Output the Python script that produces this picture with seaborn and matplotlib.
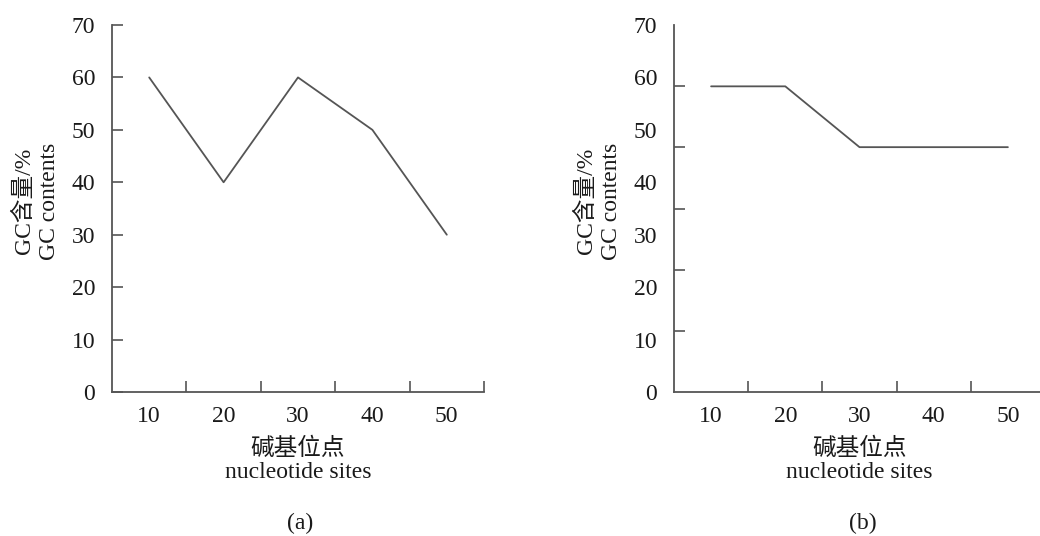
import numpy as np
import pandas as pd
import matplotlib
matplotlib.use("Agg")
import matplotlib.pyplot as plt
import seaborn as sns
from matplotlib.ticker import FixedLocator

sns.set_theme(style="white")
plt.rcParams['font.family'] = ['Liberation Serif', 'Noto Sans CJK SC', 'DejaVu Sans']

# ---- data ----
sites = ["10", "20", "30", "40", "50"]
gc_a = [60, 40, 60, 50, 30]
gc_b = [58.3, 58.3, 46.7, 46.7, 46.7]
ytick_labels = [0, 10, 20, 30, 40, 50, 60, 70]
panel_labels = ["(a)", "(b)"]
ylabel_text = "GC含量/%\nGC contents"
xlabel_text = "碱基位点\nnucleotide sites"

GRAY = "#555555"
TXT = "#1a1a1a"
FS = 17

W, H = 1040, 536
fig = plt.figure(figsize=(W / 100, H / 100), dpi=100)

def px_axes(l, r, t, b):
    return fig.add_axes([l / W, 1 - b / H, (r - l) / W, (b - t) / H])

ax_a = px_axes(112, 484, 25, 392)
ax_b = px_axes(674, 1045, 25, 392)

for i, (ax, vals) in enumerate([(ax_a, gc_a), (ax_b, gc_b)]):
    df = pd.DataFrame({"pos": np.arange(len(sites)), "gc": vals})
    sns.lineplot(data=df, x="pos", y="gc", ax=ax, color=GRAY, linewidth=1.3)
    ax.set_xlim(-0.5, len(sites) - 0.5)
    ax.set_ylim(0, 70)
    for s in ["top", "right"]:
        ax.spines[s].set_visible(False)
    for s in ["left", "bottom"]:
        ax.spines[s].set_color(GRAY)
        ax.spines[s].set_linewidth(1.3)

    # x: category labels at centers (no marks), boundary marks between categories
    ax.set_xticks(np.arange(len(sites)))
    ax.set_xticklabels(sites, fontsize=FS, color=TXT)
    ax.xaxis.set_minor_locator(FixedLocator(np.arange(len(sites)) + 0.5))
    ax.tick_params(axis="x", which="major", length=0, pad=10)
    ax.tick_params(axis="x", which="minor", direction="in", length=8, width=1.2,
                   color=GRAY, bottom=True)

    # y
    ax.set_yticks(ytick_labels)
    ax.set_yticklabels([str(v) for v in ytick_labels], fontsize=FS, color=TXT)
    if i == 0:
        ax.tick_params(axis="y", which="major", direction="in", length=8, width=1.2,
                       color=GRAY, pad=12, left=True)
    else:
        ax.tick_params(axis="y", which="major", length=0, pad=12)
        ax.yaxis.set_minor_locator(FixedLocator(np.linspace(0, 70, 7)))
        ax.tick_params(axis="y", which="minor", direction="in", length=8, width=1.2,
                       color=GRAY, left=True)

    ax.set_xlabel(xlabel_text, fontsize=FS, color=TXT, linespacing=1.12, labelpad=8)
    ax.set_ylabel(ylabel_text, fontsize=FS, color=TXT, linespacing=1.25)
    ax.yaxis.set_label_coords(-52 / 372 if i == 0 else -52 / 371, 0.52)
    ax.grid(False)

fig.text(300 / W, 1 - 523 / H, panel_labels[0], ha="center", va="center",
         fontsize=FS, color=TXT)
fig.text(863 / W, 1 - 523 / H, panel_labels[1], ha="center", va="center",
         fontsize=FS, color=TXT)

fig.savefig("out.png", dpi=100, facecolor="white")
